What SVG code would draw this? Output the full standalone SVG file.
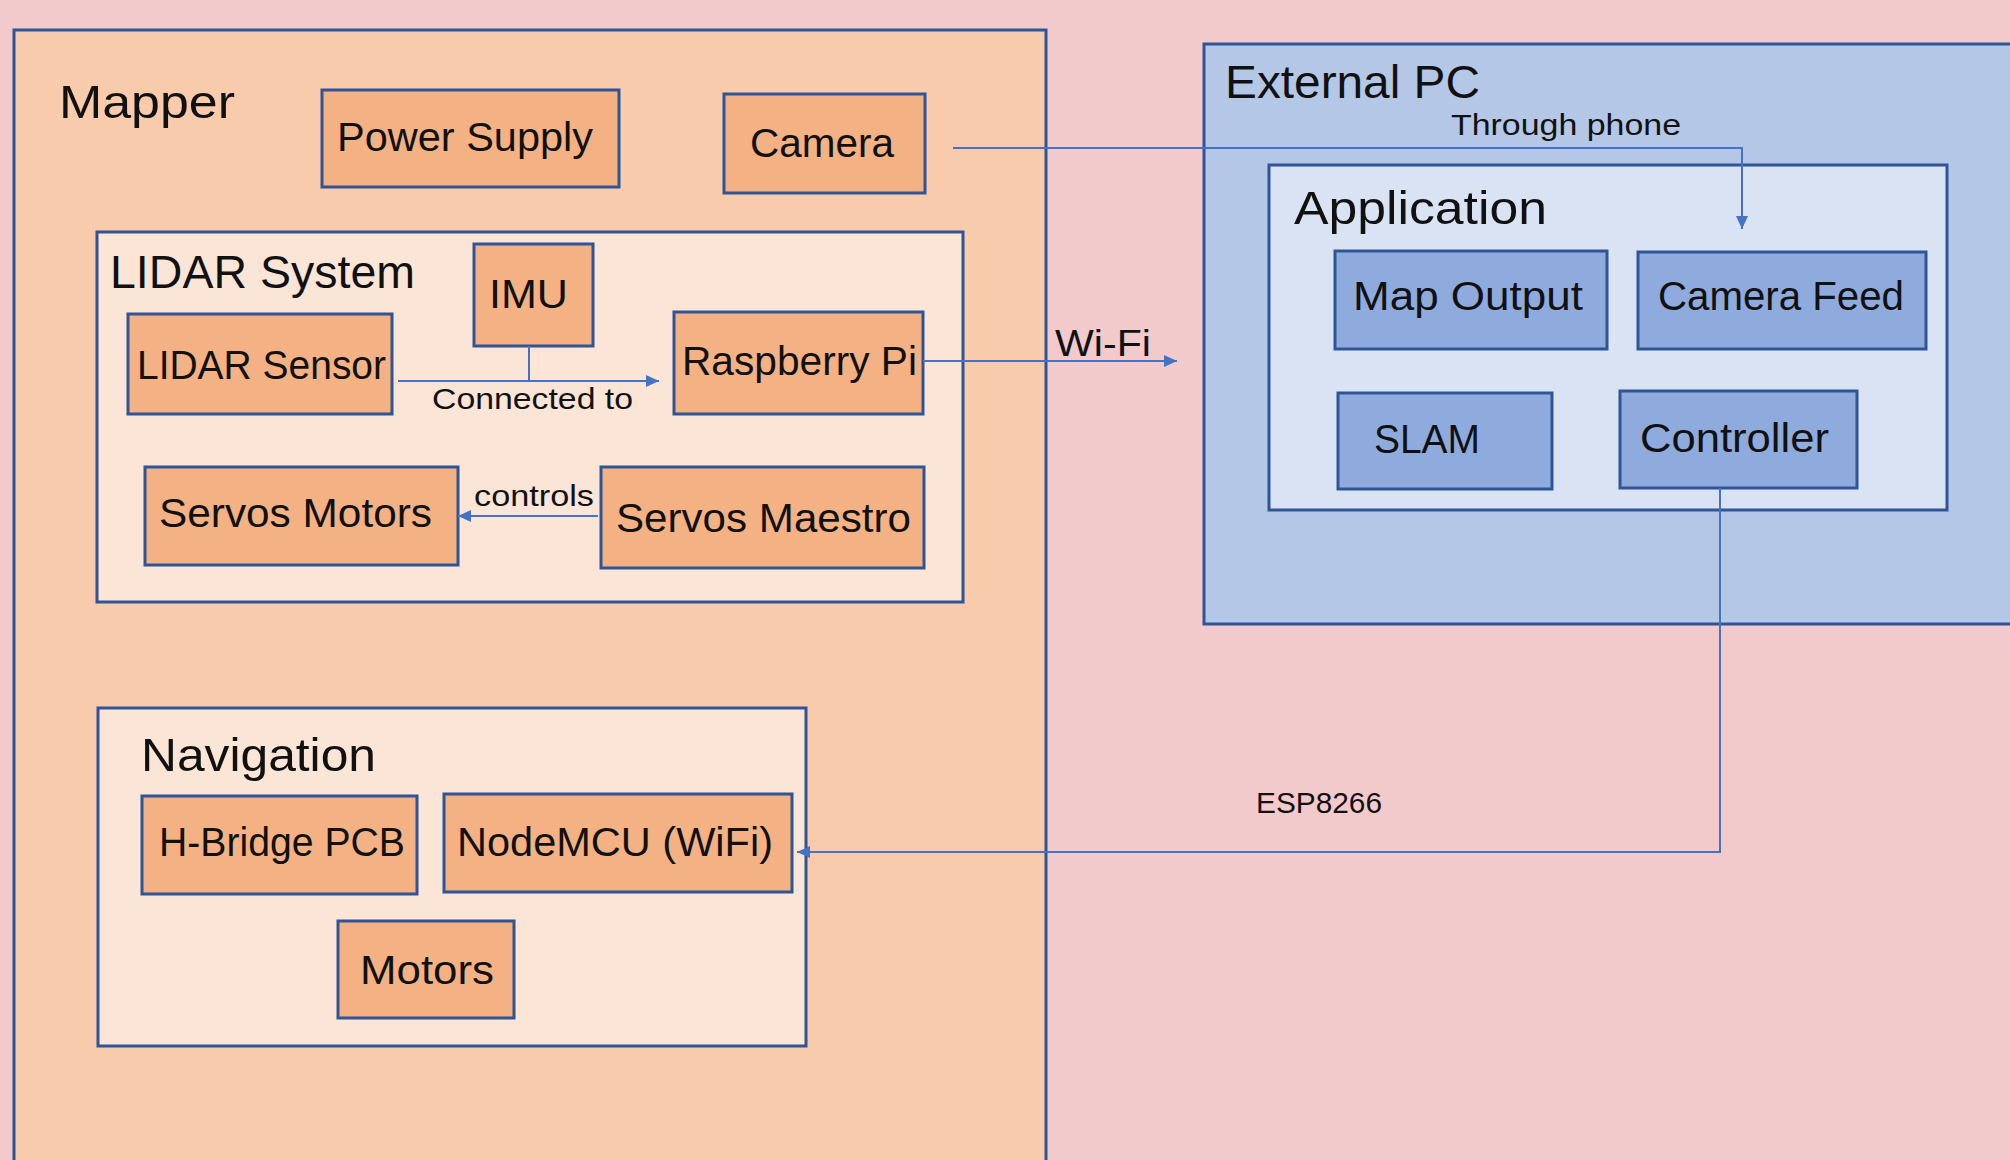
<svg xmlns="http://www.w3.org/2000/svg" width="2010" height="1160" viewBox="0 0 2010 1160">
  <defs>
    <style>
      .bg { fill: #F3CACB; }
      .box { stroke: #2F5597; stroke-width: 3; }
      .mapper { fill: #F8CBAD; }
      .sub { fill: #FBE5D6; }
      .part { fill: #F4B183; }
      .pc { fill: #B4C7E7; }
      .app { fill: #DAE3F3; }
      .mod { fill: #8FAADC; }
      text { font-family: "Liberation Sans", Arial, sans-serif; fill: #111; }
      .title { font-size: 47px; }
      .lbl { font-size: 41px; }
      .small { font-size: 29px; }
      .wire { fill: none; stroke: #4472C4; stroke-width: 2; }
    </style>
    <marker id="arrow" markerUnits="userSpaceOnUse" markerWidth="14" markerHeight="14" refX="13" refY="7" orient="auto">
      <path d="M0,1 L13,7 L0,13 Z" fill="#4472C4"/>
    </marker>
  </defs>

  <rect class="bg" x="0" y="0" width="2010" height="1160"/>

  <!-- Mapper robot -->
  <g id="mapper">
    <rect class="box mapper" x="14" y="30" width="1032" height="1150"/>
    <text class="title" x="59" y="118" textLength="176" lengthAdjust="spacingAndGlyphs">Mapper</text>
  </g>
  <g id="power-supply">
    <rect class="box part" x="322" y="90" width="297" height="97"/>
    <text class="lbl" x="337" y="151" textLength="256" lengthAdjust="spacingAndGlyphs">Power Supply</text>
  </g>
  <g id="camera">
    <rect class="box part" x="724" y="94" width="201" height="99"/>
    <text class="lbl" x="750" y="157" textLength="144" lengthAdjust="spacingAndGlyphs">Camera</text>
  </g>

  <!-- LIDAR subsystem -->
  <g id="lidar-system">
    <rect class="box sub" x="97" y="232" width="866" height="370"/>
    <text class="title" x="110" y="288" textLength="305" lengthAdjust="spacingAndGlyphs">LIDAR System</text>
  </g>
  <g id="imu">
    <rect class="box part" x="474" y="244" width="119" height="102"/>
    <text class="lbl" x="489" y="308" textLength="79" lengthAdjust="spacingAndGlyphs">IMU</text>
  </g>
  <g id="lidar-sensor">
    <rect class="box part" x="128" y="314" width="264" height="100"/>
    <text class="lbl" x="137" y="379" textLength="249" lengthAdjust="spacingAndGlyphs">LIDAR Sensor</text>
  </g>
  <g id="raspberry-pi">
    <rect class="box part" x="674" y="312" width="249" height="102"/>
    <text class="lbl" x="682" y="375" textLength="235" lengthAdjust="spacingAndGlyphs">Raspberry Pi</text>
  </g>
  <g id="servos-motors">
    <rect class="box part" x="145" y="467" width="313" height="98"/>
    <text class="lbl" x="159" y="527" textLength="273" lengthAdjust="spacingAndGlyphs">Servos Motors</text>
  </g>
  <g id="servos-maestro">
    <rect class="box part" x="601" y="467" width="323" height="101"/>
    <text class="lbl" x="616" y="532" textLength="295" lengthAdjust="spacingAndGlyphs">Servos Maestro</text>
  </g>

  <!-- Navigation subsystem -->
  <g id="navigation">
    <rect class="box sub" x="98" y="708" width="708" height="338"/>
    <text class="title" x="141" y="771" textLength="235" lengthAdjust="spacingAndGlyphs">Navigation</text>
  </g>
  <g id="h-bridge">
    <rect class="box part" x="142" y="796" width="275" height="98"/>
    <text class="lbl" x="159" y="856" textLength="246" lengthAdjust="spacingAndGlyphs">H-Bridge PCB</text>
  </g>
  <g id="nodemcu">
    <rect class="box part" x="444" y="794" width="348" height="98"/>
    <text class="lbl" x="457" y="856" textLength="316" lengthAdjust="spacingAndGlyphs">NodeMCU (WiFi)</text>
  </g>
  <g id="motors">
    <rect class="box part" x="338" y="921" width="176" height="97"/>
    <text class="lbl" x="360" y="984" textLength="134" lengthAdjust="spacingAndGlyphs">Motors</text>
  </g>

  <!-- External PC -->
  <g id="external-pc">
    <rect class="box pc" x="1204" y="44" width="820" height="580"/>
    <text class="title" x="1225" y="98" textLength="255" lengthAdjust="spacingAndGlyphs">External PC</text>
  </g>
  <g id="application">
    <rect class="box app" x="1269" y="165" width="678" height="345"/>
    <text class="title" x="1294" y="224" textLength="253" lengthAdjust="spacingAndGlyphs">Application</text>
  </g>
  <g id="map-output">
    <rect class="box mod" x="1335" y="251" width="272" height="98"/>
    <text class="lbl" x="1353" y="310" textLength="230" lengthAdjust="spacingAndGlyphs">Map Output</text>
  </g>
  <g id="camera-feed">
    <rect class="box mod" x="1638" y="252" width="288" height="97"/>
    <text class="lbl" x="1658" y="310" textLength="246" lengthAdjust="spacingAndGlyphs">Camera Feed</text>
  </g>
  <g id="slam">
    <rect class="box mod" x="1338" y="393" width="214" height="96"/>
    <text class="lbl" x="1374" y="453" textLength="106" lengthAdjust="spacingAndGlyphs">SLAM</text>
  </g>
  <g id="controller">
    <rect class="box mod" x="1620" y="391" width="237" height="97"/>
    <text class="lbl" x="1640" y="452" textLength="189" lengthAdjust="spacingAndGlyphs">Controller</text>
  </g>

  <!-- Links between parts -->
  <g id="connectors">
    <path class="wire" d="M398,381 H659" marker-end="url(#arrow)"/>
    <path class="wire" d="M529,346 V381"/>
    <text class="small" x="432" y="409" textLength="201" lengthAdjust="spacingAndGlyphs">Connected to</text>

    <path class="wire" d="M598,516 H458" marker-end="url(#arrow)"/>
    <text class="small" x="474" y="506" textLength="120" lengthAdjust="spacingAndGlyphs">controls</text>

    <path class="wire" d="M923,361 H1177" marker-end="url(#arrow)"/>
    <text x="1055" y="356" font-size="37" textLength="96" lengthAdjust="spacingAndGlyphs">Wi-Fi</text>

    <path class="wire" d="M953,148 H1742 V229" marker-end="url(#arrow)"/>
    <text class="small" x="1451" y="135" textLength="230" lengthAdjust="spacingAndGlyphs">Through phone</text>

    <path class="wire" d="M1720,488 V852 H797" marker-end="url(#arrow)"/>
    <text class="small" x="1256" y="813" textLength="126" lengthAdjust="spacingAndGlyphs">ESP8266</text>
  </g>
</svg>
